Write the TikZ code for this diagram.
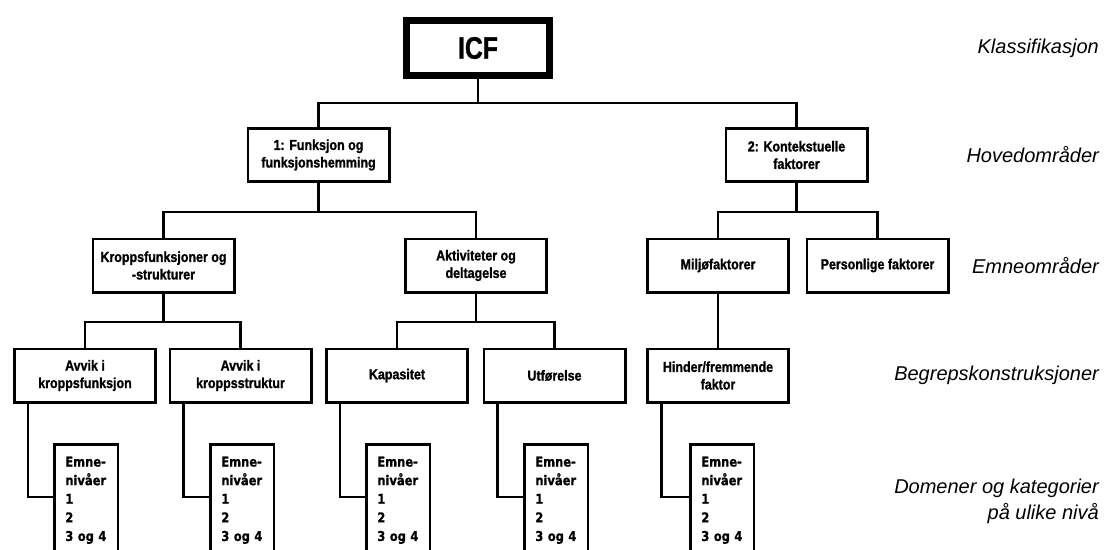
\documentclass[tikz,border=0pt]{standalone}
\usepackage{fontspec}
\setmainfont{Liberation Sans}
\newfontfamily\boxfont[FakeStretch=0.86,FakeBold=1.2]{Liberation Sans}
\newfontfamily\icffont[FakeStretch=0.8,FakeBold=1]{Liberation Sans}
\newfontfamily\botfont[FakeStretch=0.85,FakeBold=0.8]{DejaVu Sans}
\newfontfamily\lblfont{Liberation Sans}
\begin{document}
\begin{tikzpicture}[x=1pt,y=-1pt,
  box/.style={draw,line width=2.7pt,minimum width=141.3pt,minimum height=53.3pt,inner sep=0pt,align=center,
    font=\boxfont\bfseries\fontsize{14.5}{17.5}\selectfont},
  icfbox/.style={draw,line width=7pt,minimum width=143pt,minimum height=55pt,inner sep=0pt,
    font=\icffont\bfseries\fontsize{31}{31}\selectfont},
  botbox/.style={draw,line width=2.7pt,anchor=north west,text width=42pt,inner xsep=10.65pt,inner ysep=12pt,
    align=left,text depth=90pt,font=\botfont\bfseries\fontsize{13.5}{18.6}\selectfont},
  conn/.style={line width=2.7pt},
  lbl/.style={anchor=east,inner sep=0pt,font=\lblfont\itshape\fontsize{20}{26}\selectfont}]
\useasboundingbox (0,0) rectangle (1105,549);
\clip (0,0) rectangle (1105,549);
% level 1
\node[icfbox] (icf) at (478,48) {ICF};
% level 2
\node[box] (f1) at (318.5,155) {1: Funksjon og\\funksjonshemming};
\node[box] (f2) at (796.5,155) {2: Kontekstuelle\\faktorer};
% level 3
\node[box] (k1) at (163.5,265.5) {Kroppsfunksjoner og\\-strukturer};
\node[box] (k2) at (476,265.5) {Aktiviteter og\\deltagelse};
\node[box] (k3) at (718,265.5) {Miljøfaktorer};
\node[box] (k4) at (877.5,265.5) {Personlige faktorer};
% level 4
\node[box] (a1) at (85,375.5) {Avvik i\\kroppsfunksjon};
\node[box] (a2) at (240.5,375.5) {Avvik i\\kroppsstruktur};
\node[box] (a3) at (397,375.5) {Kapasitet};
\node[box] (a4) at (554.5,375.5) {Utførelse};
\node[box] (a5) at (718,375.5) {Hinder/fremmende\\faktor};
% level 5
\node[botbox] (e1) at (53.35,443.35) {Emne-\\nivåer\\1\\2\\3 og 4};
\node[botbox] (e2) at (209.35,443.35) {Emne-\\nivåer\\1\\2\\3 og 4};
\node[botbox] (e3) at (365.35,443.35) {Emne-\\nivåer\\1\\2\\3 og 4};
\node[botbox] (e4) at (523.35,443.35) {Emne-\\nivåer\\1\\2\\3 og 4};
\node[botbox] (e5) at (689.35,443.35) {Emne-\\nivåer\\1\\2\\3 og 4};
% buses
\coordinate (bus1) at (0,103);
\coordinate (bus2) at (0,212);
\coordinate (bus3) at (0,322);
\coordinate (bus4) at (0,497);
\draw[conn] (icf.south) -- (icf.south |- bus1);
\draw[conn] (f1.north) -- (f1.north |- bus1) -- (f2.north |- bus1) -- (f2.north);
\draw[conn] (f1.south) -- (f1.south |- bus2);
\draw[conn] (k1.north) -- (k1.north |- bus2) -- (k2.north |- bus2) -- (k2.north);
\draw[conn] (f2.south) -- (f2.south |- bus2);
\draw[conn] (k3.north) -- (k3.north |- bus2) -- (k4.north |- bus2) -- (k4.north);
\draw[conn] (k1.south) -- (k1.south |- bus3);
\draw[conn] (a1.north) -- (a1.north |- bus3) -- (a2.north |- bus3) -- (a2.north);
\draw[conn] (k2.south) -- (k2.south |- bus3);
\draw[conn] (a3.north) -- (a3.north |- bus3) -- (a4.north |- bus3) -- (a4.north);
\draw[conn] (k3.south) -- (k3.south |- a5.north);
\draw[conn] ([xshift=15pt]a1.south west) |- (e1.north west |- bus4);
\draw[conn] ([xshift=15pt]a2.south west) |- (e2.north west |- bus4);
\draw[conn] ([xshift=15pt]a3.south west) |- (e3.north west |- bus4);
\draw[conn] ([xshift=15pt]a4.south west) |- (e4.north west |- bus4);
\draw[conn] ([xshift=15.5pt]a5.south west) |- (e5.north west |- bus4);
% labels
\node[lbl] (l1) at (1099,48) {Klassifikasjon};
\node[lbl] (l2) at (1099,155) {Hovedområder};
\node[lbl] (l3) at (1099,266) {Emneområder};
\node[lbl] (l4) at (1099,375) {Begrepskonstruksjoner};
\node[lbl,align=right] (l5) at (1099,501) {Domener og kategorier\\på ulike nivå};
\end{tikzpicture}
\end{document}
